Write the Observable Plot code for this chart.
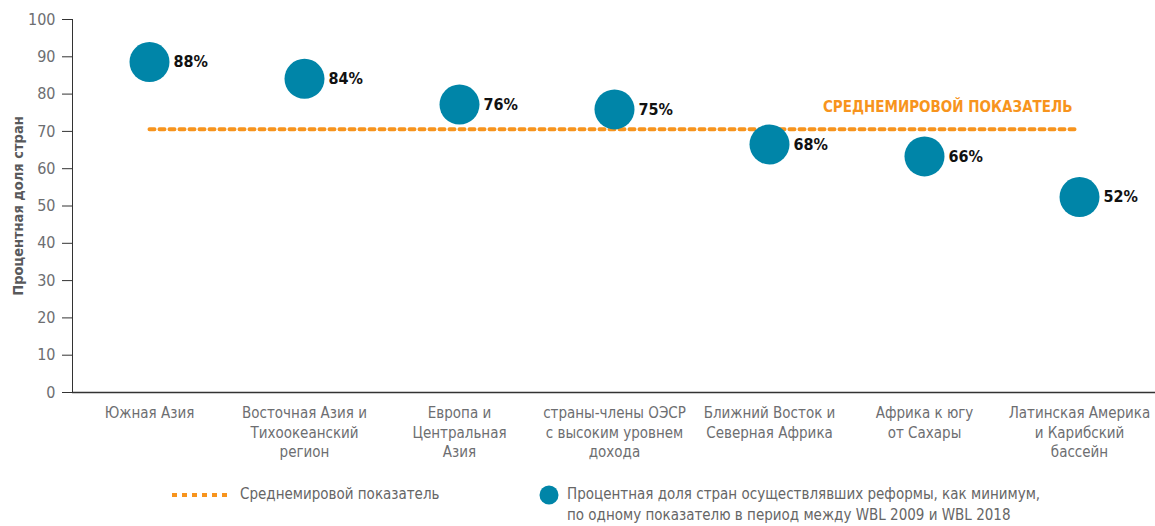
<!DOCTYPE html>
<html>
<head>
<meta charset="utf-8">
<script src="https://cdn.jsdelivr.net/npm/d3@7"></script>
<script src="https://cdn.jsdelivr.net/npm/@observablehq/plot@0.6"></script>
<style>
  html, body { margin: 0; padding: 0; background: #fff; }
  body { width: 1155px; height: 526px; position: relative; overflow: hidden;
         font-family: "DejaVu Sans Condensed", "Liberation Sans Narrow", Roboto, sans-serif; }
  #chart svg { display: block; }
  .legend { position: absolute; top: 482px; left: 0; width: 1155px; height: 44px;
            font-size: 15px; color: #666; line-height: 21px; }
  .legend .item { position: absolute; display: flex; align-items: flex-start; }
  .legend .sw { flex: none; margin-right: 8px; margin-top: 3px; }
</style>
</head>
<body>
<div id="chart"></div>
<div class="legend">
  <div class="item" style="left:172px; top:2px;">
    <svg class="sw" width="60" height="16"><line x1="0" y1="8" x2="60" y2="8" stroke="#F7941D" stroke-width="4" stroke-dasharray="5,5"/></svg>
    <span id="leg1"></span>
  </div>
  <div class="item" style="left:539px; top:2px;">
    <svg class="sw" width="20" height="20" style="margin-top:1px"><circle cx="10" cy="10" r="9.5" fill="#0085A8"/></svg>
    <span id="leg2"></span>
  </div>
</div>
<script>
const categories = [
  "Южная Азия",
  "Восточная Азия и\nТихоокеанский\nрегион",
  "Европа и\nЦентральная\nАзия",
  "страны-члены ОЭСР\nс высоким уровнем\nдохода",
  "Ближний Восток и\nСеверная Африка",
  "Африка к югу\nот Сахары",
  "Латинская Америка\nи Карибский\nбассейн"
];
const dotValues = [88.6, 84.1, 77.2, 75.9, 66.5, 63.3, 52.4];
const valueLabels = ["88%", "84%", "76%", "75%", "68%", "66%", "52%"];
const worldAverage = 70.6;
const averageLabel = "СРЕДНЕМИРОВОЙ ПОКАЗАТЕЛЬ";
const yTicks = [0, 10, 20, 30, 40, 50, 60, 70, 80, 90, 100];
const yLabel = "Процентная доля стран";
const legendAverage = "Среднемировой показатель";
const legendDots = "Процентная доля стран осуществлявших реформы, как минимум,\nпо одному показателю в период между WBL 2009 и WBL 2018";

const data = categories.map((c, i) => ({cat: c, v: dotValues[i], label: valueLabels[i]}));
const orange = "#F7941D";
const teal = "#0085A8";
const font = "'DejaVu Sans Condensed', 'Liberation Sans Narrow', Roboto, sans-serif";

const chart = Plot.plot({
  width: 1155,
  height: 478,
  marginLeft: 72,
  marginRight: 0,
  marginTop: 19,
  marginBottom: 86,
  style: {fontFamily: font, background: "#fff"},
  x: {type: "point", domain: categories, range: [148, 1080], padding: 0, axis: null},
  y: {domain: [0, 100], axis: null},
  marks: [
    Plot.axisY({ticks: yTicks, tickSize: 10, tickPadding: 7, fontSize: 16, color: "#6d6e71", stroke: "#333", label: null}),
    Plot.text([yLabel], {frameAnchor: "left", dx: -54, rotate: -90, textAnchor: "middle", fontSize: 14.5, fontWeight: "bold", fill: "#58595b"}),
    Plot.frame({anchor: "left", stroke: "#333", strokeWidth: 1}),
    Plot.ruleY([0], {stroke: "#333", strokeWidth: 1.5}),
    Plot.line(categories, {x: d => d, y: () => worldAverage, stroke: orange, strokeWidth: 4, strokeDasharray: "5,5"}),
    Plot.text([averageLabel], {x: () => categories[categories.length - 1], y: () => worldAverage, dx: -7, dy: -22, textAnchor: "end", fill: orange, fontWeight: "bold", fontSize: 15}),
    Plot.dot(data, {x: "cat", y: "v", r: 20, fill: teal}),
    Plot.text(data, {x: "cat", y: "v", text: "label", dx: 24, textAnchor: "start", fontWeight: "bold", fontSize: 16, fill: "#111"}),
    Plot.text(categories, {x: d => d, y: () => 0, text: d => d, dy: 12, lineAnchor: "top", lineHeight: 1.3, fontSize: 15, fill: "#6d6e71"})
  ]
});
document.getElementById("chart").appendChild(chart);
document.getElementById("leg1").textContent = legendAverage;
document.getElementById("leg2").innerHTML = legendDots.split("\n").join("<br>");
</script>
</body>
</html>
